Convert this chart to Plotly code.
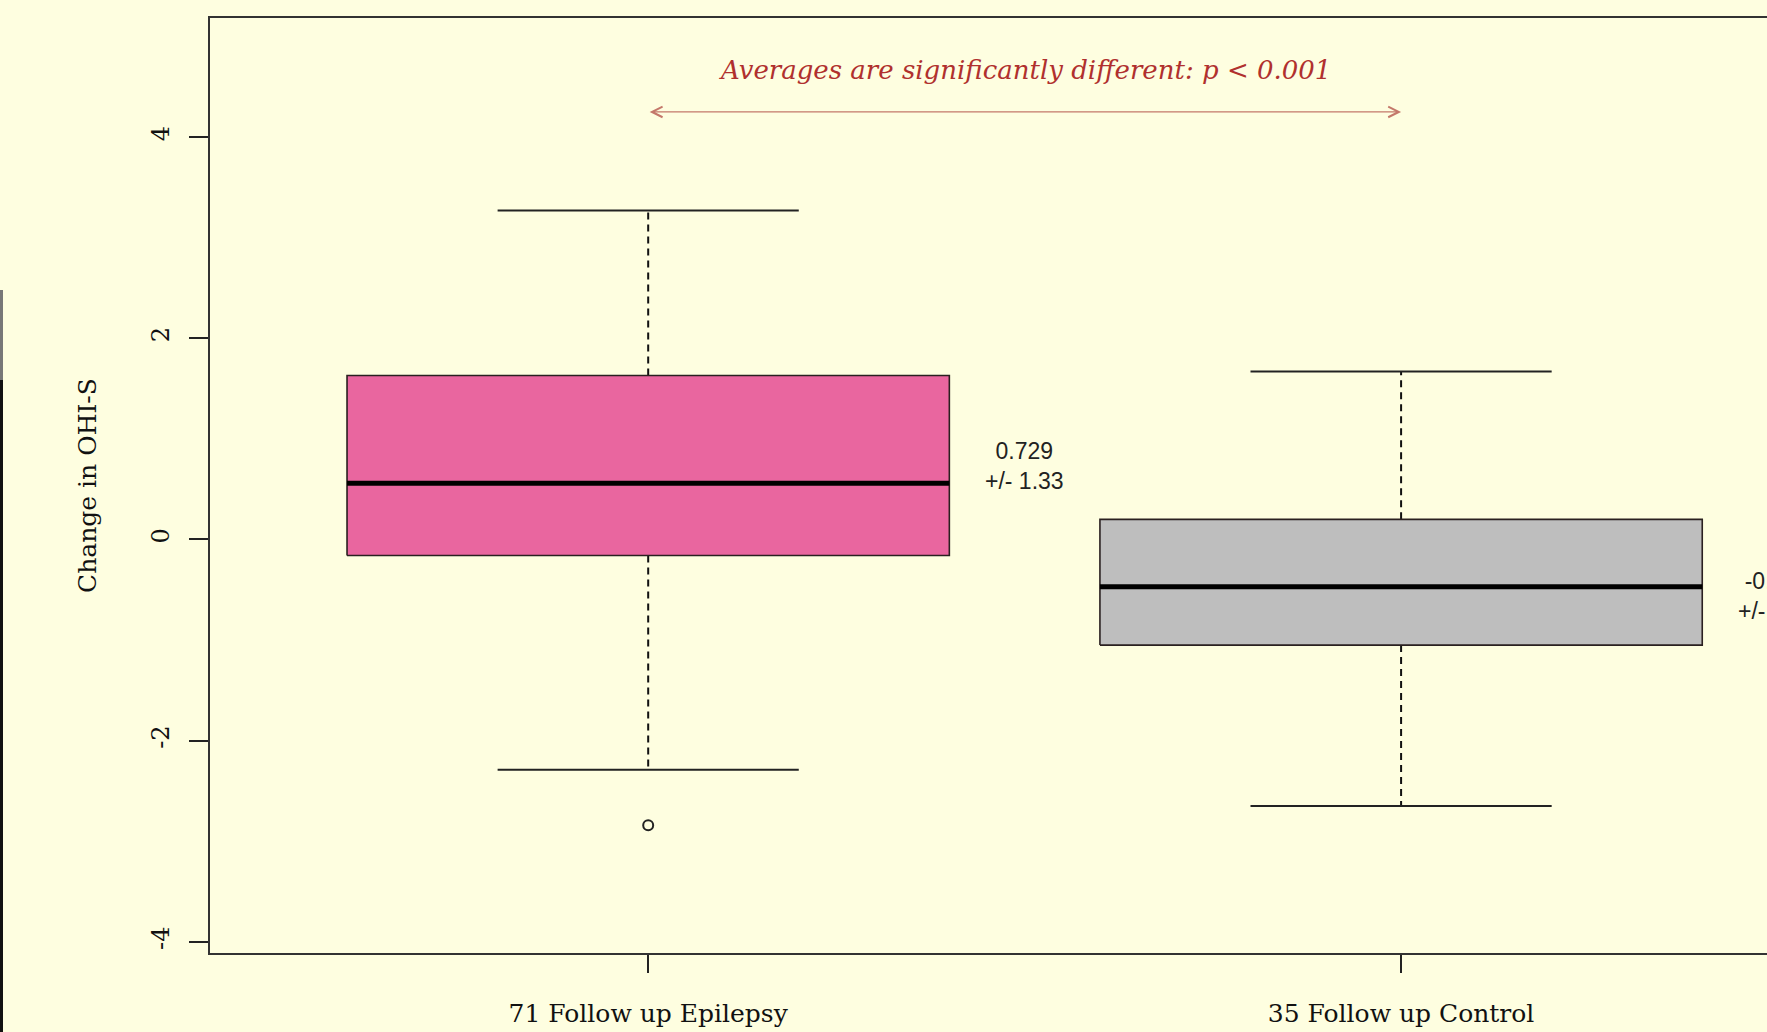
import plotly.graph_objects as go

# ---------------- data ----------------
groups = ["71 Follow up Epilepsy", "35 Follow up Control"]
positions = [1, 2]
q1 = [-0.16, -1.05]
medians = [0.56, -0.47]
q3 = [1.63, 0.20]
lower_whisker = [-2.29, -2.65]
upper_whisker = [3.27, 1.67]
outlier_group = [1]
outlier_values = [-2.84]
means = [0.729, -0.563]
sds = [1.33, 1.09]
mean_labels = ["0.729", "-0.563"]
sd_labels = ["+/- 1.33", "+/- 1.09"]
box_colors = ["#E9669F", "#BEBEBE"]
y_ticks = [-4, -2, 0, 2, 4]
sig_text = "Averages are significantly different: p &lt; 0.001"
sig_text_y = 4.67
sig_arrow_y = 4.25

# ---------------- styling ----------------
BOX_WIDTH = 0.8
STAPLE_WIDTH = 0.4
X_RANGE = [0.418, 2.486]
Y_RANGE = [-4.111, 5.184]
BG = "#FEFEE0"
W, H = 1767, 1032
ML, MR, MT, MB = 210, 0, 18, 79
SERIF = "DejaVu Serif"
SANS = "Liberation Sans"

fig = go.Figure()

for i, p in enumerate(positions):
    hw = BOX_WIDTH / 2
    sw = STAPLE_WIDTH / 2
    # dashed whiskers
    fig.add_trace(go.Scatter(
        x=[p, p, None, p, p],
        y=[q3[i], upper_whisker[i], None, q1[i], lower_whisker[i]],
        mode="lines", line=dict(color="#111111", width=2, dash="7px,5px"),
        showlegend=False, hoverinfo="skip"))
    # staples
    fig.add_trace(go.Scatter(
        x=[p - sw, p + sw, None, p - sw, p + sw],
        y=[upper_whisker[i], upper_whisker[i], None, lower_whisker[i], lower_whisker[i]],
        mode="lines", line=dict(color="#222222", width=2),
        showlegend=False, hoverinfo="skip"))
    # box
    fig.add_trace(go.Scatter(
        x=[p - hw, p + hw, p + hw, p - hw, p - hw],
        y=[q1[i], q1[i], q3[i], q3[i], q1[i]],
        mode="lines", fill="toself", fillcolor=box_colors[i],
        line=dict(color="#2a2020", width=1.6),
        showlegend=False, name=groups[i], hoverinfo="skip"))
    # median
    fig.add_trace(go.Scatter(
        x=[p - hw, p + hw], y=[medians[i], medians[i]],
        mode="lines", line=dict(color="#000000", width=5),
        showlegend=False, hoverinfo="skip"))

# outliers
fig.add_trace(go.Scatter(
    x=[positions[g - 1] for g in outlier_group], y=outlier_values,
    mode="markers",
    marker=dict(symbol="circle-open", size=10, color="#222222", line=dict(width=2)),
    showlegend=False, hoverinfo="skip"))

def xpaper(v):
    return (v - X_RANGE[0]) / (X_RANGE[1] - X_RANGE[0])

# mean +/- sd labels
for i, p in enumerate(positions):
    fig.add_annotation(
        x=xpaper(p + 0.5), xref="paper", y=means[i], yref="y",
        text=mean_labels[i] + "<br>" + sd_labels[i], showarrow=False,
        xanchor="center", yanchor="middle", align="center",
        font=dict(family=SANS, size=23, color="#222222"))

# significance arrow + text
fig.add_annotation(
    x=positions[1], y=sig_arrow_y, ax=positions[0], ay=sig_arrow_y,
    xref="x", yref="y", axref="x", ayref="y", text="",
    showarrow=True, arrowside="end+start", arrowhead=5,
    arrowsize=1.6, arrowwidth=1.3, arrowcolor="#C4786A")
fig.add_annotation(
    x=sum(positions) / len(positions), y=sig_text_y, xref="x", yref="y",
    text=sig_text, showarrow=False, xanchor="center", yanchor="middle",
    font=dict(family=SERIF, size=26, color="#B0302E", style="italic"))

# window edge line at far left
plot_w = W - ML - MR
plot_h = H - MT - MB
def px_to_paper_x(px):
    return (px - ML) / plot_w
def px_to_paper_y(py):
    return (H - MB - py) / plot_h
fig.add_shape(type="line", xref="paper", yref="paper",
              x0=px_to_paper_x(1.5), x1=px_to_paper_x(1.5),
              y0=px_to_paper_y(290), y1=px_to_paper_y(380),
              line=dict(color="#777777", width=3))
fig.add_shape(type="line", xref="paper", yref="paper",
              x0=px_to_paper_x(1.5), x1=px_to_paper_x(1.5),
              y0=px_to_paper_y(380), y1=px_to_paper_y(1032),
              line=dict(color="#111111", width=3))

fig.update_layout(
    width=W, height=H,
    margin=dict(l=ML, r=MR, t=MT, b=MB, pad=0),
    paper_bgcolor=BG, plot_bgcolor=BG,
    showlegend=False,
    xaxis=dict(
        range=X_RANGE, tickmode="array", tickvals=positions, ticktext=groups,
        ticks="outside", ticklen=18, tickwidth=2, tickcolor="#222222",
        showline=True, linecolor="#333333", linewidth=2, mirror=True,
        showgrid=False, zeroline=False, ticklabelstandoff=19,
        tickfont=dict(family=SERIF, size=25, color="#111111")),
    yaxis=dict(
        range=Y_RANGE, tickmode="array", tickvals=y_ticks,
        ticktext=[str(t) for t in y_ticks],
        ticks="outside", ticklen=19, tickwidth=2, tickcolor="#222222",
        showline=True, linecolor="#333333", linewidth=2, mirror=False,
        showgrid=False, zeroline=False, tickangle=-90, ticklabelstandoff=10,
        tickfont=dict(family=SERIF, size=24, color="#111111"),
        title=dict(text="Change in OHI-S", standoff=44,
                   font=dict(family=SERIF, size=25, color="#111111"))),
)

fig.write_html("out.html",
               config={"displayModeBar": False},
               post_script="document.body.style.margin='0';document.body.style.background='" + BG + "';")
